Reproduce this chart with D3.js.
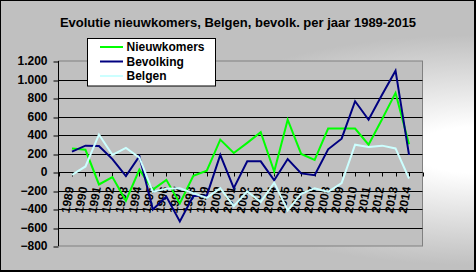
<!DOCTYPE html>
<html>
<head>
<meta charset="utf-8">
<script src="https://cdn.jsdelivr.net/npm/d3@7"></script>
<style>
    body { margin: 0; background: #fff; }
    svg text { font-family: Arial, "Liberation Sans", sans-serif; font-weight: bold; fill: #000; }
</style>
</head>
<body>
<svg id="chart" width="476" height="272"></svg>
<script>
// years on the category axis (1988 and 2015 are empty slots at the ends)
const years = [1989, 1990, 1991, 1992, 1993, 1994, 1995, 1996, 1997, 1998, 1999, 2000, 2001,
    2002, 2003, 2004, 2005, 2006, 2007, 2008, 2009, 2010, 2011, 2012, 2013, 2014];
const nieuwkomers = [255, 240, -135, -55, -310, 25, -190, -85, -340, -40, 15, 350, 205,
    315, 430, 5, 565, 195, 130, 470, 470, 470, 295, 570, 855, 300];
const bevolking = [220, 285, 280, 140, -45, 170, -405, -265, -535, -260, -255, 185, -175,
    115, 115, -90, 140, -15, -35, 245, 360, 765, 565, 835, 1095, 185];
const belgen = [-30, 60, 405, 185, 260, 155, -215, -180, -175, -230, -280, -175, -370,
    -210, -325, -115, -415, -235, -175, -215, -120, 295, 270, 285, 255, -70];
const seriesNames = ['Nieuwkomers', 'Bevolking', 'Belgen'];
const seriesColors = ['#00ff00', '#000080', '#ccffff'];
const yTicks = [-800, -600, -400, -200, 0, 200, 400, 600, 800, 1000, 1200];
const title = 'Evolutie nieuwkomers, Belgen, bevolk. per jaar 1989-2015';

/** Class drawing the line chart. */
class LineChart {
    /**
     * Creates the chart object with its scales
     */
    constructor() {
        this.svg = d3.select('svg#chart');
        this.left = 58.5;
        this.right = 422.5;
        this.top = 61;
        this.bottom = 246;
        this.x = d3.scaleLinear().domain([1988, 2015]).range([this.left, this.right]);
        this.y = d3.scaleLinear().domain([-800, 1200]).range([this.bottom, this.top]);
    }

    /**
     * Outer frame with the gradient fill and the title
     */
    drawBackground() {
        let defs = this.svg.append('defs');
        let grad = defs.append('radialGradient')
            .attr('id', 'bg')
            .attr('gradientUnits', 'userSpaceOnUse')
            .attr('cx', 0).attr('cy', 0).attr('r', 1)
            .attr('gradientTransform', 'translate(476,150) scale(320,115)');
        grad.append('stop').attr('offset', 0).attr('stop-color', '#ffffff');
        grad.append('stop').attr('offset', 0.2).attr('stop-color', '#ffffff');
        grad.append('stop').attr('offset', 1).attr('stop-color', '#c0c0c0');

        this.svg.append('rect')
            .attr('width', 476).attr('height', 272)
            .attr('fill', '#000');
        this.svg.append('rect')
            .attr('x', 1).attr('y', 1)
            .attr('width', 473).attr('height', 269)
            .attr('fill', 'url(#bg)');

        this.svg.append('text')
            .attr('x', 238)
            .attr('y', 26.5)
            .attr('text-anchor', 'middle')
            .style('font-size', '13px')
            .text(title);
    }

    /**
     * Plot area, gridlines and both axes
     */
    drawAxes() {
        let x = this.x, y = this.y;
        this.svg.append('rect')
            .attr('x', this.left).attr('y', this.top)
            .attr('width', this.right - this.left)
            .attr('height', this.bottom - this.top)
            .attr('fill', '#c0c0c0')
            .attr('stroke', '#808080');

        this.svg.append('g')
            .selectAll('line')
            .data(yTicks.filter(d => d > -800 && d < 1200))
            .enter()
            .append('line')
            .attr('x1', this.left).attr('x2', this.right)
            .attr('y1', d => Math.round(y(d)) + 0.5)
            .attr('y2', d => Math.round(y(d)) + 0.5)
            .attr('stroke', '#000');

        // value axis
        let yAxis = d3.axisLeft(y)
            .tickValues(yTicks)
            .tickSize(5)
            .tickPadding(6)
            .tickFormat(d => d3.format(',')(d).replace(',', '.'));
        let gy = this.svg.append('g')
            .attr('transform', 'translate(' + this.left + ',0)')
            .call(yAxis);
        gy.select('.domain').remove();
        gy.append('line')
            .attr('x1', 0).attr('x2', 0)
            .attr('y1', this.top).attr('y2', this.bottom)
            .attr('stroke', '#000');
        gy.selectAll('.tick line')
            .attr('transform', d => 'translate(0,' + (Math.round(y(d)) + 0.5 - y(d)) + ')')
            .attr('stroke', '#000');
        gy.selectAll('.tick text')
            .attr('font-family', null)
            .attr('font-size', null)
            .style('font-size', '12px');

        // category axis on the zero line
        let y0 = Math.round(y(0)) + 0.5;
        let gx = this.svg.append('g');
        gx.append('line')
            .attr('x1', this.left).attr('x2', this.right)
            .attr('y1', y0).attr('y2', y0)
            .attr('stroke', '#000');
        gx.selectAll('line.tick')
            .data(d3.range(1988, 2016))
            .enter()
            .append('line')
            .attr('class', 'tick')
            .attr('x1', d => Math.round(x(d)) + 0.5)
            .attr('x2', d => Math.round(x(d)) + 0.5)
            .attr('y1', y0).attr('y2', y0 + 4)
            .attr('stroke', '#000');
        gx.selectAll('text')
            .data(years)
            .enter()
            .append('text')
            .attr('transform', d => 'translate(' + (x(d) + 2) + ',' + (y0 + 15) + ') rotate(-80)')
            .attr('text-anchor', 'end')
            .style('font-size', '12px')
            .text(d => d);
    }

    /**
     * The three series lines
     */
    drawLines() {
        let x = this.x, y = this.y;
        let line = d3.line()
            .x((d, i) => x(years[i]))
            .y(d => y(d));
        this.svg.append('g')
            .selectAll('path')
            .data([nieuwkomers, bevolking, belgen])
            .enter()
            .append('path')
            .attr('d', line)
            .attr('fill', 'none')
            .attr('stroke', (d, i) => seriesColors[i])
            .attr('stroke-width', 2)
            .attr('stroke-linejoin', 'miter');
    }

    /**
     * Legend box top left
     */
    drawLegend() {
        let g = this.svg.append('g');
        g.append('rect')
            .attr('x', 87.5).attr('y', 38.5)
            .attr('width', 128).attr('height', 47.5)
            .attr('fill', '#fff')
            .attr('stroke', '#000');
        let rows = g.selectAll('g.row')
            .data(seriesNames)
            .enter()
            .append('g')
            .attr('class', 'row')
            .attr('transform', (d, i) => 'translate(0,' + (47 + i * 14.5) + ')');
        rows.append('line')
            .attr('x1', 100).attr('x2', 123)
            .attr('stroke', (d, i) => seriesColors[i])
            .attr('stroke-width', 2);
        rows.append('text')
            .attr('x', 126.5)
            .attr('dy', '0.36em')
            .style('font-size', '12px')
            .text(d => d);
    }
}

let chart = new LineChart();
chart.drawBackground();
chart.drawAxes();
chart.drawLines();
chart.drawLegend();
</script>
</body>
</html>
